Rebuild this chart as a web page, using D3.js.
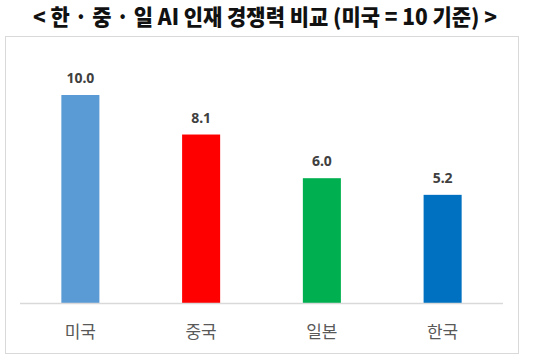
<!DOCTYPE html>
<html>
<head>
<meta charset="utf-8">
<script src="https://cdn.jsdelivr.net/npm/d3@7"></script>
<style>
  body { margin: 0; background: #fff; }
</style>
</head>
<body>
<div id="chart"></div>
<script>
// chart data
var titleText = "< 한 · 중 · 일 AI 인재 경쟁력 비교 (미국 = 10 기준) >";
var countries = ["미국", "중국", "일본", "한국"];
var scores = [10.0, 8.1, 6.0, 5.2];
var barColors = ["#5B9BD5", "#FF0000", "#00B050", "#0070C0"];

var width = 540, height = 362;

var svg = d3.select("#chart")
    .append("svg")
    .attr("width", width)
    .attr("height", height);

// title
svg.append("text")
    .attr("x", 265)
    .attr("y", 25)
    .attr("text-anchor", "middle")
    .attr("font-family", "'Noto Sans CJK KR', sans-serif")
    .attr("font-weight", 900)
    .attr("font-size", "22px")
    .attr("fill", "#111")
    .attr("textLength", 464)
    .attr("lengthAdjust", "spacingAndGlyphs")
    .text(titleText);

// chart frame
svg.append("rect")
    .attr("x", 5.5)
    .attr("y", 36.5)
    .attr("width", 513)
    .attr("height", 317)
    .attr("fill", "#fff")
    .attr("stroke", "#d9d9d9");

var x = d3.scaleBand()
    .domain(countries)
    .range([20, 503])
    .paddingInner(0.685)
    .paddingOuter(0.3425);

var y = d3.scaleLinear()
    .domain([0, 10])
    .range([303, 95]);

var data = countries.map(function (c, i) {
    return { name: c, value: scores[i], color: barColors[i] };
});

// bars
svg.append("g")
    .selectAll("rect")
    .data(data)
    .enter()
    .append("rect")
    .attr("x", d => x(d.name))
    .attr("y", d => y(d.value))
    .attr("width", x.bandwidth())
    .attr("height", d => y(0) - y(d.value))
    .attr("fill", d => d.color);

// baseline
svg.append("line")
    .attr("x1", 20)
    .attr("x2", 503)
    .attr("y1", y(0) + 0.5)
    .attr("y2", y(0) + 0.5)
    .attr("stroke", "#d9d9d9")
    .attr("stroke-width", 1.5);

// value labels
svg.append("g")
    .selectAll("text")
    .data(data)
    .enter()
    .append("text")
    .attr("x", d => x(d.name) + x.bandwidth() / 2)
    .attr("y", d => y(d.value) - 12)
    .attr("text-anchor", "middle")
    .attr("font-family", "'Noto Sans', sans-serif")
    .attr("font-weight", 700)
    .attr("font-size", "14px")
    .attr("fill", "#404040")
    .text(d => d.value.toFixed(1));

// category labels
svg.append("g")
    .selectAll("text")
    .data(data)
    .enter()
    .append("text")
    .attr("x", d => x(d.name) + x.bandwidth() / 2)
    .attr("y", 338)
    .attr("text-anchor", "middle")
    .attr("font-family", "'Noto Sans CJK KR', sans-serif")
    .attr("font-size", "17px")
    .attr("fill", "#595959")
    .text(d => d.name);
</script>
</body>
</html>
